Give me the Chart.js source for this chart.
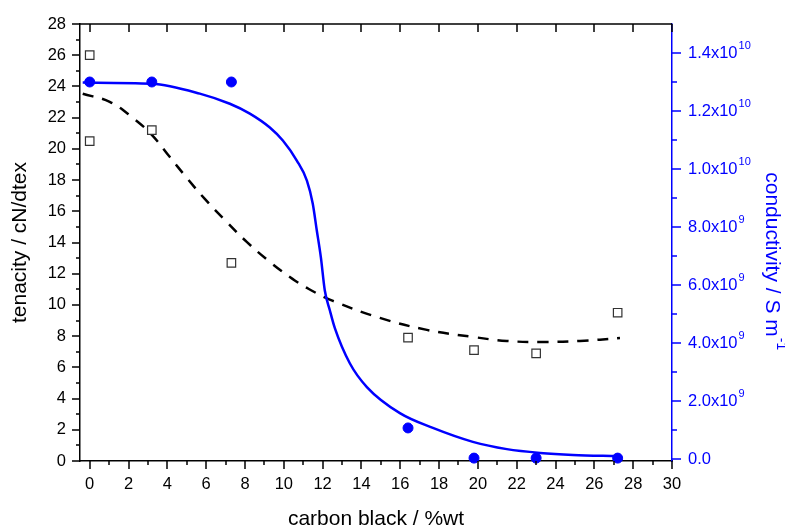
<!DOCTYPE html>
<html>
<head>
<meta charset="utf-8">
<script src="https://cdn.jsdelivr.net/npm/chart.js@4.4.0/dist/chart.umd.min.js"></script>
<style>
  html, body { margin: 0; padding: 0; background: #fff; }
  #wrap { width: 785px; height: 530px; }
</style>
</head>
<body>
<div id="wrap"><canvas id="chart"></canvas></div>
<script>
// measured points
const tenacityX = [0, 0, 3.2, 7.3, 16.4, 19.8, 23.0, 27.2];
const tenacityY = [26.0, 20.5, 21.2, 12.7, 7.9, 7.1, 6.9, 9.5];
const conductX = [0, 3.2, 7.3, 16.4, 19.8, 23.0, 27.2];
const conductY = [1.30e10, 1.30e10, 1.30e10, 1.07e9, 3e7, 3e7, 3e7];

// fitted curves
const tenFitX = [-0.36, 1.03, 2.22, 3.2, 4.12, 5.0, 5.93, 7.06, 8.09, 9.28, 10.31, 11.19, 12.53, 14.95, 17.37, 19.74, 21.49, 23.2, 25.26, 27.32];
const tenFitY = [23.53, 23.01, 21.99, 20.9, 19.49, 18.14, 16.79, 15.32, 14.04, 12.76, 11.79, 11.09, 10.26, 9.17, 8.40, 7.95, 7.69, 7.63, 7.69, 7.88];
const condFitX = [-0.36, 3.2, 5.67, 7.22, 8.25, 9.28, 9.95, 10.67, 11.19, 11.49, 11.70, 11.91, 12.11, 12.37, 12.63, 13.4, 14.28, 15.98, 17.68, 19.74, 21.49, 23.2, 24.9, 27.2];
const condFitY = [1.298e10, 1.294e10, 1.260e10, 1.225e10, 1.191e10, 1.143e10, 1.098e10, 1.029e10, 9.60e9, 8.81e9, 7.88e9, 6.95e9, 5.82e9, 5.13e9, 4.51e9, 3.30e9, 2.48e9, 1.58e9, 1.07e9, 5.9e8, 3.4e8, 2.1e8, 1.4e8, 1.0e8];

// tick values
const xTicks = [0, 2, 4, 6, 8, 10, 12, 14, 16, 18, 20, 22, 24, 26, 28, 30];
const condTicks = [0, 2e9, 4e9, 6e9, 8e9, 1e10, 1.2e10, 1.4e10];

const toXY = (xs, ys) => xs.map((x, i) => ({x: x, y: ys[i]}));

// "1.4x10" + exponent, split so the exponent can be raised
function sciParts(v) {
    if (v === 0) return ['0.0', ''];
    const e = Math.floor(Math.log10(v) + 1e-9);
    return [(v / Math.pow(10, e)).toFixed(1) + 'x10', String(e)];
}

const FONT = "'Liberation Sans', Arial, sans-serif";
const BLUE = '#0000ff';

function drawSup(ctx, base, sup, x, y, size) {
    ctx.font = size + 'px ' + FONT;
    ctx.fillText(base, x, y);
    const w = ctx.measureText(base).width;
    if (sup) {
        ctx.font = Math.round(size * 0.68) + 'px ' + FONT;
        ctx.fillText(sup, x + w + 1, y - size * 0.42);
    }
}

// ticks with minor marks, top frame line, right axis labels and title
const axisTicks = {
    id: 'axisTicks',
    afterDraw(chart) {
        const ctx = chart.ctx;
        const {x, y, y1} = chart.scales;
        const a = chart.chartArea;
        ctx.save();
        ctx.lineWidth = 1.5;
        ctx.strokeStyle = '#000';
        ctx.beginPath();
        ctx.moveTo(a.left, a.top);
        ctx.lineTo(a.right, a.top);
        for (let v = 0; v <= 28; v++) {
            const py = Math.round(y.getPixelForValue(v));
            ctx.moveTo(a.left, py);
            ctx.lineTo(a.left - (v % 2 === 0 ? 8 : 4), py);
        }
        for (let v = 0; v <= 30; v++) {
            const px = Math.round(x.getPixelForValue(v));
            ctx.moveTo(px, a.bottom);
            ctx.lineTo(px, a.bottom + (v % 2 === 0 ? 8 : 4));
            if (v % 2 === 0) {
                ctx.moveTo(px, a.top);
                ctx.lineTo(px, a.top + 8);
            }
        }
        ctx.stroke();
        ctx.strokeStyle = BLUE;
        ctx.beginPath();
        for (let k = 0; k <= 14; k++) {
            const py = Math.round(y1.getPixelForValue(k * 1e9));
            ctx.moveTo(a.right, py);
            ctx.lineTo(a.right + (k % 2 === 0 ? 9 : 5), py);
        }
        ctx.stroke();

        ctx.fillStyle = BLUE;
        ctx.textAlign = 'left';
        ctx.textBaseline = 'middle';
        condTicks.forEach(v => {
            const [base, sup] = sciParts(v);
            drawSup(ctx, base, sup, a.right + 16, y1.getPixelForValue(v), 16.5);
        });

        ctx.font = '21px ' + FONT;
        const title = 'conductivity / S m';
        const tw = ctx.measureText(title).width + 11;
        ctx.translate(772, 260);
        ctx.rotate(Math.PI / 2);
        drawSup(ctx, title, '-1', -tw / 2, 0, 21);
        ctx.restore();
    }
};

new Chart(document.getElementById('chart'), {
    type: 'scatter',
    data: {
        datasets: [
            {
                label: 'conductivity',
                data: toXY(conductX, conductY),
                yAxisID: 'y1',
                pointStyle: 'circle',
                pointRadius: 5,
                backgroundColor: BLUE,
                borderColor: BLUE,
                borderWidth: 1,
                clip: false
            },
            {
                label: 'tenacity',
                data: toXY(tenacityX, tenacityY),
                yAxisID: 'y',
                pointStyle: 'rect',
                pointRadius: 6,
                backgroundColor: '#fff',
                borderColor: '#333',
                borderWidth: 1.2,
                clip: false
            },
            {
                label: 'conductivity fit',
                data: toXY(condFitX, condFitY),
                yAxisID: 'y1',
                showLine: true,
                pointRadius: 0,
                borderColor: BLUE,
                borderWidth: 2.5,
                cubicInterpolationMode: 'monotone'
            },
            {
                label: 'tenacity fit',
                data: toXY(tenFitX, tenFitY),
                yAxisID: 'y',
                showLine: true,
                pointRadius: 0,
                borderColor: '#000',
                borderWidth: 2.5,
                borderDash: [11, 9],
                tension: 0.4
            }
        ]
    },
    options: {
        responsive: true,
        maintainAspectRatio: false,
        animation: false,
        layout: { padding: { top: 24, left: 0, right: 0, bottom: 0 } },
        plugins: {
            legend: { display: false },
            tooltip: { enabled: false }
        },
        scales: {
            x: {
                type: 'linear',
                position: 'bottom',
                min: -0.5,
                max: 30,
                grid: { drawOnChartArea: false, drawTicks: false },
                border: { color: '#000', width: 1.5 },
                ticks: { padding: 14, color: '#000', font: { family: FONT, size: 16.5 } },
                afterBuildTicks: s => { s.ticks = xTicks.map(v => ({value: v})); },
                title: { display: true, text: 'carbon black / %wt', color: '#000', font: { family: FONT, size: 21 }, padding: { top: 0, bottom: -2 } },
                afterFit: s => { s.height = 69; }
            },
            y: {
                position: 'left',
                min: 0,
                max: 28,
                grid: { drawOnChartArea: false, drawTicks: false },
                border: { color: '#000', width: 1.5 },
                ticks: { stepSize: 2, padding: 14, color: '#000', font: { family: FONT, size: 16.5 } },
                title: { display: true, text: 'tenacity / cN/dtex', color: '#000', font: { family: FONT, size: 21 }, padding: { top: 8, bottom: 0 } },
                afterFit: s => { s.width = 80; }
            },
            y1: {
                position: 'right',
                min: -7e7,
                max: 1.5e10,
                grid: { drawOnChartArea: false, drawTicks: false },
                border: { color: BLUE, width: 1.5 },
                ticks: { display: false },
                afterBuildTicks: s => { s.ticks = condTicks.map(v => ({value: v})); },
                afterFit: s => { s.width = 113; }
            }
        }
    },
    plugins: [axisTicks]
});
</script>
</body>
</html>
